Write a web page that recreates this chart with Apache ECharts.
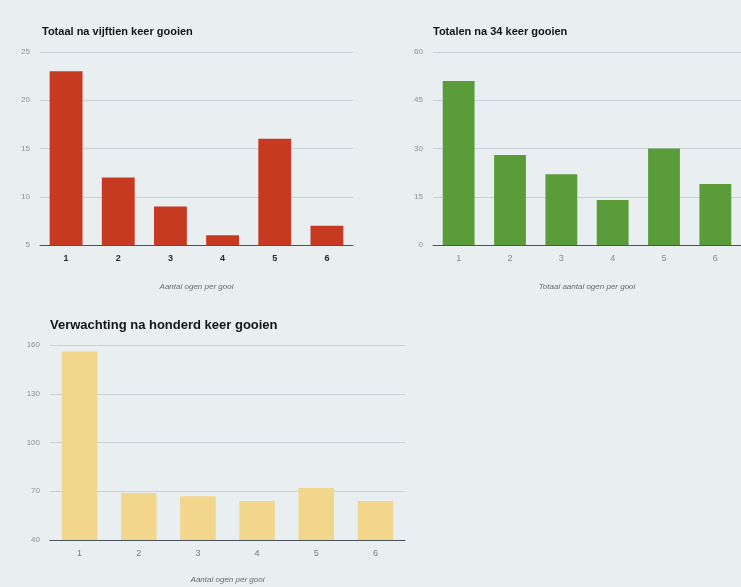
<!DOCTYPE html>
<html>
<head>
<meta charset="utf-8">
<script src="https://cdn.jsdelivr.net/npm/echarts@6/dist/echarts.min.js"></script>
<style>
html,body{margin:0;padding:0;background:#e9eef1;}
#c{width:741px;height:587px;}
</style>
</head>
<body>
<div id="c"></div>
<script>
var categories = ['1','2','3','4','5','6'];
var valuesFifteen = [23, 12, 9, 6, 16, 7];
var valuesThirtyFour = [51, 28, 22, 14, 30, 19];
var valuesHundred = [156, 69, 67, 64, 72, 64];
var ticksFifteen = [5, 25, 5];      // min, max, interval
var ticksThirtyFour = [0, 60, 15];
var ticksHundred = [40, 160, 30];

var chart = echarts.init(document.getElementById('c'));
var font = 'Liberation Sans, Arial, sans-serif';

function xAxis(idx, name, labelColor, labelWeight, nameGap) {
  return {
    type: 'category', gridIndex: idx, data: categories,
    axisLine: {lineStyle: {color: '#4a5560', width: 1}},
    axisTick: {show: false},
    axisLabel: {color: labelColor, fontSize: 9, fontWeight: labelWeight, fontFamily: font, margin: 9},
    name: name, nameLocation: 'middle', nameGap: nameGap,
    nameTextStyle: {color: '#6a6a6a', fontSize: 8, fontStyle: 'italic', fontFamily: font}
  };
}
function yAxis(idx, t) {
  return {
    type: 'value', gridIndex: idx, min: t[0], max: t[1], interval: t[2],
    axisLine: {show: false}, axisTick: {show: false},
    axisLabel: {color: '#8f8f8f', fontSize: 8, fontFamily: font, margin: 10},
    splitLine: {lineStyle: {color: '#c9d0d6', width: 1}}
  };
}

chart.setOption({
  backgroundColor: '#e9eef1',
  animation: false,
  title: [
    {text: 'Totaal na vijftien keer gooien', left: 37, top: 21,
     textStyle: {fontSize: 11, fontWeight: 'bold', color: '#151515', fontFamily: font}},
    {text: 'Totalen na 34 keer gooien', left: 428, top: 21,
     textStyle: {fontSize: 11, fontWeight: 'bold', color: '#151515', fontFamily: font}},
    {text: 'Verwachting na honderd keer gooien', left: 45, top: 314,
     textStyle: {fontSize: 13, fontWeight: 'bold', color: '#151515', fontFamily: font}}
  ],
  grid: [
    {left: 40, top: 52, width: 313, height: 193},
    {left: 433, top: 52, width: 313, height: 193},
    {left: 50, top: 345, width: 355, height: 195}
  ],
  xAxis: [
    xAxis(0, 'Aantal ogen per gooi', '#2a2a2a', 'bold', 38),
    xAxis(1, 'Totaal aantal ogen per gooi', '#8a8a8a', 'normal', 38),
    xAxis(2, 'Aantal ogen per gooi', '#7a7a7a', 'normal', 36)
  ],
  yAxis: [
    yAxis(0, ticksFifteen),
    yAxis(1, ticksThirtyFour),
    yAxis(2, ticksHundred)
  ],
  series: [
    {type: 'bar', xAxisIndex: 0, yAxisIndex: 0, data: valuesFifteen, barWidth: '63%',
     itemStyle: {color: '#c63a22'}},
    {type: 'bar', xAxisIndex: 1, yAxisIndex: 1, data: valuesThirtyFour, barWidth: '62%',
     itemStyle: {color: '#5b9c3a'}},
    {type: 'bar', xAxisIndex: 2, yAxisIndex: 2, data: valuesHundred, barWidth: '60%',
     itemStyle: {color: '#f1d68c'}}
  ]
});
</script>
</body>
</html>
